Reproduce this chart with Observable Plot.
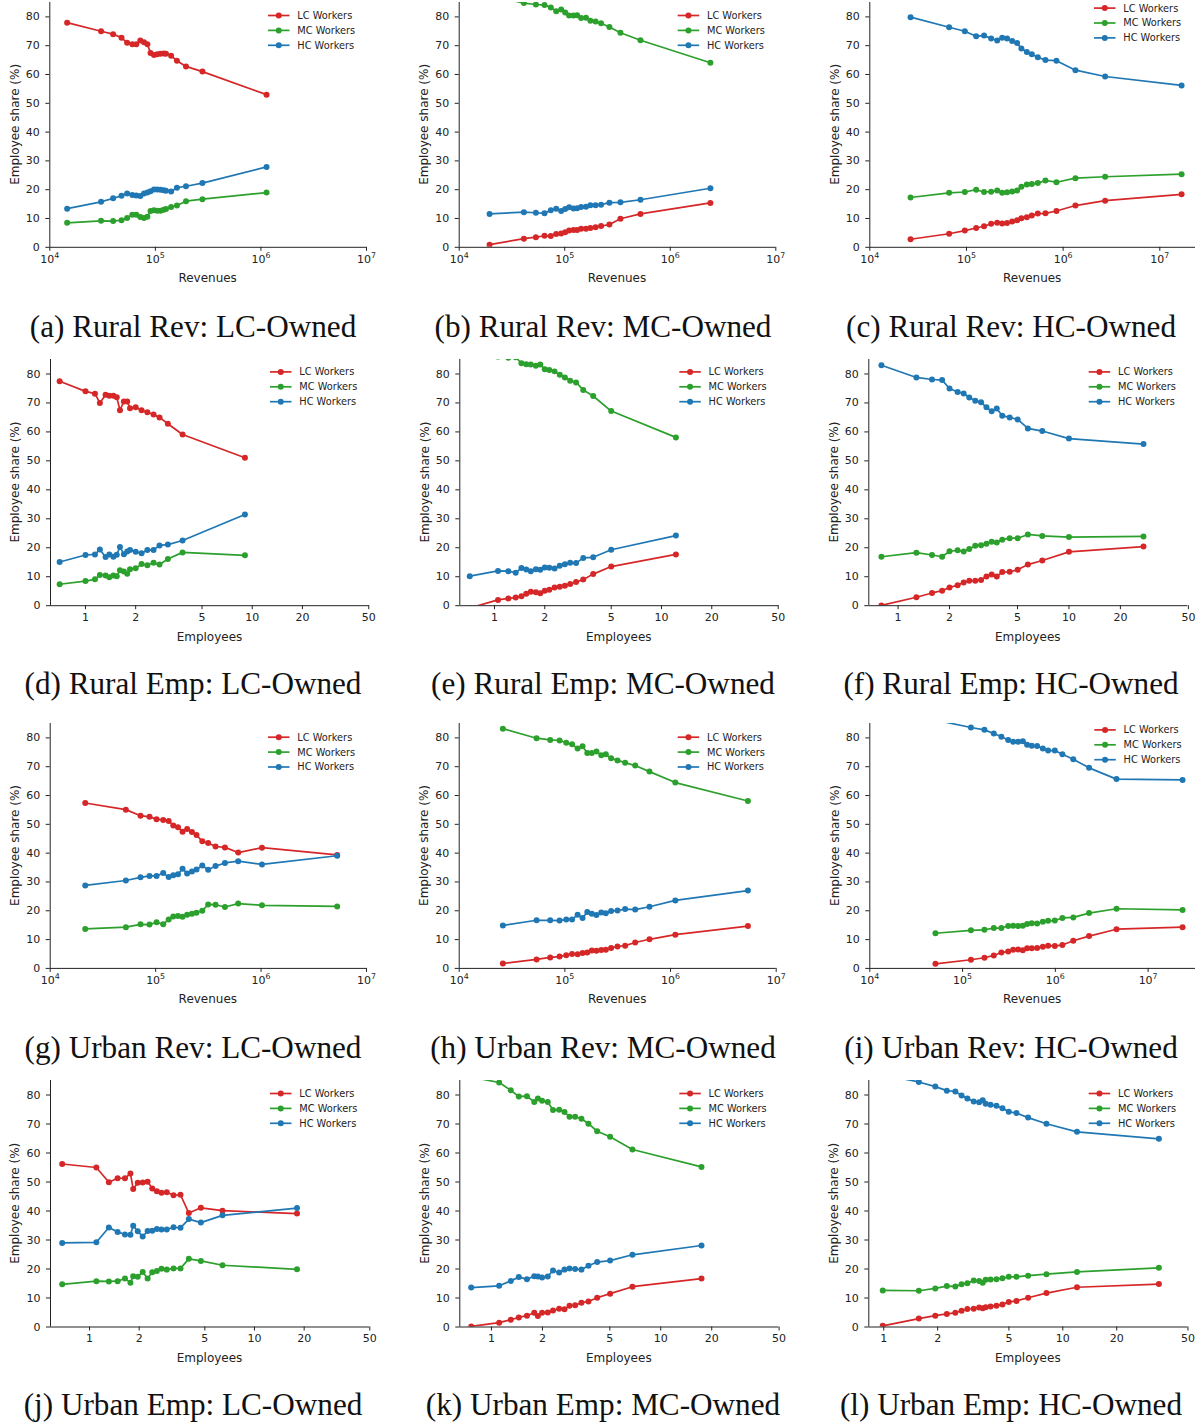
<!DOCTYPE html>
<html><head><meta charset="utf-8">
<script src="https://cdn.jsdelivr.net/npm/d3@7"></script>
<script src="https://cdn.jsdelivr.net/npm/@observablehq/plot@0.6"></script>
<style>
body{margin:0;background:#fff;}
#root{position:relative;width:1198px;height:1425px;overflow:hidden;font-family:"DejaVu Sans";}
.panel{position:absolute;}
.cap{position:absolute;font-family:"Liberation Serif";font-size:31.2px;line-height:30px;white-space:nowrap;color:#111;transform:translateX(-50%);}
</style></head><body><div id="root"></div>
<script>
const seriesNames = ["LC Workers","MC Workers","HC Workers"];
const colors = ["#d62728","#2ca02c","#1f77b4"];
const yTicks = [0,10,20,30,40,50,60,70,80];
const revTicks = [1e4,1e5,1e6,1e7];
const empTicks = [1,2,5,10,20,50];

// (a) Rural Rev: LC-Owned
const aX = [1.46e4,3.06e4,3.98e4,4.78e4,5.4e4,6.05e4,6.6e4,7.2e4,7.8e4,8.4e4,9.0e4,9.7e4,1.04e5,1.12e5,1.2e5,1.26e5,1.41e5,1.6e5,1.95e5,2.79e5,1.13e6];
const aLC = [78,75,74,72.8,71,70.5,70.5,71.8,71.2,70.5,67.5,66.8,67,67.2,67.3,67.2,66.5,64.8,62.8,61,53];
const aMC = [8.5,9.2,9.1,9.4,10.2,11.3,11.3,10.5,10.2,10.6,12.6,12.9,12.7,12.7,13,13.3,14,14.5,16,16.7,19];
const aHC = [13.4,15.8,17,17.9,18.7,18.2,18,17.8,18.7,19,19.5,20.1,20.1,20,19.8,19.6,19.4,20.7,21.2,22.3,27.9];
// (b) Rural Rev: MC-Owned
const bX = [1.94e4,4.1e4,5.33e4,6.43e4,7.38e4,8.3e4,9.25e4,1.01e5,1.10e5,1.21e5,1.31e5,1.43e5,1.59e5,1.75e5,1.96e5,2.21e5,2.65e5,3.37e5,5.22e5,2.40e6];
const bLC = [0.9,3,3.5,4,3.9,4.6,4.8,5.2,5.8,6,6,6.4,6.4,6.7,7,7.4,7.9,9.9,11.6,15.4];
const bMC = [87.5,84.8,84.3,84.1,83.3,82,82.6,81.5,80.5,80.5,80.6,79.6,79.7,78.7,78.4,77.8,76.5,74.5,71.9,64.1];
const bHC = [11.6,12.2,12,11.8,12.9,13.4,12.6,13.3,13.9,13.5,13.6,14,14.1,14.6,14.6,14.8,15.5,15.6,16.5,20.5];
// (c) Rural Rev: HC-Owned
const cX = [2.64e4,6.62e4,9.62e4,1.26e5,1.52e5,1.8e5,2.08e5,2.34e5,2.63e5,2.97e5,3.34e5,3.7e5,4.21e5,4.74e5,5.47e5,6.56e5,8.53e5,1.34e6,2.72e6,1.68e7];
const cLC = [2.8,4.7,5.8,6.7,7.3,8.2,8.5,8.3,8.4,9,9.4,10.1,10.4,11,11.7,11.8,12.6,14.5,16.2,18.4];
const cMC = [17.3,18.9,19.2,20,19.2,19.3,19.7,18.9,19.1,19.4,19.7,21,21.8,22,22.3,23.2,22.6,24,24.5,25.4];
const cHC = [79.9,76.4,75,73.3,73.5,72.5,71.8,72.8,72.5,71.6,70.9,69,67.8,67,66,65,64.8,61.5,59.3,56.2];
// (d) Rural Emp: LC-Owned
const dX = [0.70,1.0,1.14,1.22,1.32,1.39,1.47,1.54,1.61,1.70,1.78,1.85,2.0,2.17,2.35,2.56,2.78,3.12,3.82,9.04];
const dLC = [77.5,74,73.2,70,72.8,72.5,72.5,72,67.5,70.5,70.5,68.2,68.5,67.5,66.8,66,65,62.8,59.1,51.1];
const dMC = [7.4,8.5,9.1,10.6,10.4,9.8,10.4,10.2,12.2,11.8,11,12.6,12.9,14.4,14,14.8,14.2,16.1,18.4,17.4];
const dHC = [15.1,17.5,17.7,19.4,16.8,17.7,16.9,17.6,20.3,17.8,18.7,19.2,18.6,18.1,19.2,19.2,20.8,21.1,22.5,31.5];
// (e) Rural Emp: MC-Owned
const eX = [0.711,1.05,1.21,1.34,1.45,1.55,1.65,1.77,1.88,2.0,2.13,2.29,2.46,2.64,2.84,3.08,3.40,3.90,5.0,12.2];
const eLC = [-0.8,2,2.5,2.8,3.3,4.1,4.8,4.6,4.3,5.2,5.5,6.3,6.5,6.9,7.5,8.2,9,10.9,13.5,17.7];
const eMC = [90.6,86,85.6,85.8,83.7,83.4,83.3,82.8,83.3,81.6,81.4,80.9,79.7,78.8,77.7,77.1,74.5,72.4,67.2,58.1];
const eHC = [10.2,12,11.9,11.4,13,12.5,11.9,12.6,12.4,13.2,13.1,12.8,13.8,14.3,14.8,14.7,16.5,16.7,19.3,24.2];
// (f) Rural Emp: HC-Owned
const fX = [0.799,1.28,1.58,1.81,2.0,2.23,2.42,2.61,2.83,3.06,3.29,3.53,3.78,4.07,4.50,5.01,5.75,6.98,10.0,27.3];
const fLC = [0.1,2.9,4.4,5.2,6.3,7.1,8.0,8.6,8.6,8.9,10.1,10.8,10.1,11.6,11.7,12.4,14.2,15.6,18.6,20.4];
const fMC = [16.9,18.3,17.5,16.9,18.8,19.1,18.7,19.6,20.7,20.9,21.4,22.1,21.8,22.8,23.3,23.3,24.6,24.1,23.7,23.9];
const fHC = [83,78.8,78.1,77.9,75,73.8,73.3,71.9,70.8,70.2,68.5,67.1,68.1,65.6,65,64.3,61.2,60.3,57.7,55.8];
// (g) Urban Rev: LC-Owned
const gX = [2.15e4,5.22e4,7.19e4,8.75e4,1.02e5,1.18e5,1.33e5,1.47e5,1.63e5,1.80e5,1.99e5,2.21e5,2.44e5,2.77e5,3.15e5,3.70e5,4.54e5,6.07e5,1.02e6,5.27e6];
const gLC = [57.4,55.1,53,52.6,51.8,51.5,51.2,49.6,49,47.4,48.4,47.3,46.3,44.1,43.5,42.3,42,40.2,41.9,39.4];
const gMC = [13.7,14.3,15.3,15.2,16,15.3,17,18,18.2,17.9,18.6,19,19.3,20,22.2,22.1,21.3,22.5,21.9,21.5];
const gHC = [28.8,30.5,31.6,32.1,32.1,33.1,31.7,32.3,32.7,34.6,32.9,33.6,34.3,35.7,34.2,35.5,36.6,37.2,36.1,39.1];
// (h) Urban Rev: MC-Owned
const hX = [2.59e4,5.40e4,7.26e4,8.91e4,1.03e5,1.17e5,1.32e5,1.47e5,1.63e5,1.80e5,1.99e5,2.21e5,2.44e5,2.74e5,3.15e5,3.72e5,4.63e5,6.32e5,1.11e6,5.40e6];
const hLC = [1.7,3.1,3.8,4.1,4.6,5,4.9,5.3,5.5,6.2,6.1,6.4,6.5,7.1,7.6,7.9,9,10.1,11.7,14.7];
const hMC = [83.2,79.9,79.3,79.1,78.3,77.8,76.3,77.1,74.8,74.8,75.3,74,74.3,72.9,72.2,71.4,70.4,68.3,64.5,58.1];
const hHC = [14.9,16.7,16.7,16.6,17,17,18.6,17.5,19.6,19,18.5,19.4,19.1,19.9,20.1,20.6,20.4,21.4,23.6,27];
// (i) Urban Rev: HC-Owned
const iX = [5.1e4,1.23e5,1.72e5,2.17e5,2.62e5,3.10e5,3.51e5,3.97e5,4.46e5,4.96e5,5.57e5,6.36e5,7.33e5,8.36e5,9.86e5,1.19e6,1.56e6,2.31e6,4.56e6,2.35e7];
const iLC = [1.6,3.0,3.7,4.5,5.5,5.9,6.5,6.6,6.3,7,7,7.1,7.5,7.9,7.8,8.1,9.6,11.2,13.6,14.3];
const iMC = [12.2,13.2,13.4,14,14,14.7,14.8,14.7,14.8,15.4,15.7,15.6,16.2,16.5,16.6,17.5,17.7,19.2,20.7,20.3];
const iHC = [86.2,83.6,82.8,81.5,80.4,79.3,78.7,78.7,78.8,77.6,77.3,77.2,76.3,75.6,75.6,74.3,72.6,69.6,65.7,65.4];
// (j) Urban Emp: LC-Owned
const jX = [0.683,1.10,1.31,1.48,1.64,1.77,1.84,1.96,2.10,2.25,2.40,2.56,2.73,2.94,3.23,3.56,4.0,4.73,6.40,18.1];
const jLC = [56.2,55,49.9,51.3,51.3,52.9,47.6,49.7,49.8,50.1,47.8,46.8,46.3,46.5,45.4,45.6,39.3,41.1,40.1,39.1];
const jMC = [14.7,15.8,15.7,15.8,16.7,15.3,17.5,17.3,19,16.7,18.9,19.3,20.1,19.8,20.2,20.2,23.5,22.8,21.3,19.9];
const jHC = [29,29.2,34.3,32.8,31.9,31.8,34.9,33,31.2,33.1,33.2,33.8,33.6,33.6,34.4,34.2,37.2,36,38.5,41];
// (k) Urban Emp: MC-Owned
const kX = [0.759,1.11,1.30,1.45,1.62,1.79,1.88,1.99,2.15,2.31,2.51,2.70,2.89,3.12,3.40,3.74,4.21,5.02,6.80,17.4];
const kLC = [0.2,1.5,2.5,3.3,3.9,4.9,3.8,4.9,5,5.7,6.3,6.1,7.3,7.5,8.4,8.8,10.1,11.5,13.9,16.7];
const kMC = [86.2,84.3,81.6,79.5,79.6,77.6,78.8,78,77.6,74.8,74.9,74.1,72.5,72.5,71.8,70.1,67.5,65.6,61.2,55.2];
const kHC = [13.6,14.2,15.9,17.2,16.5,17.5,17.4,17.1,17.4,19.5,18.8,19.8,20.2,20,19.8,21.1,22.4,22.9,24.9,28.1];
// (l) Urban Emp: HC-Owned
const lX = [0.987,1.57,1.94,2.25,2.51,2.72,2.93,3.18,3.41,3.57,3.71,3.95,4.26,4.60,4.99,5.51,6.40,8.10,12.0,34.4];
const lLC = [0.4,2.9,3.9,4.5,4.9,5.6,6.2,6.3,6.7,6.5,6.8,7.1,7.3,7.8,8.6,9,10.1,11.7,13.7,14.8];
const lMC = [12.6,12.5,13.3,14.1,14,14.7,15.1,16,15.9,15.3,16.3,16.4,16.5,16.8,17.3,17.3,17.7,18.2,19,20.4];
const lHC = [87,84.5,82.9,81.5,81.2,79.8,78.8,77.8,77.5,78.2,77,76.6,76.3,75.4,74.2,73.8,72.2,70.1,67.3,64.9];

const panels = [
  {cap:"(a) Rural Rev: LC-Owned", kind:"rev", x:aX, lc:aLC, mc:aMC, hc:aHC, domain:[1e4,1e7], row:0, col:0, frame:[49.3,366], lg:[98,13.5]},
  {cap:"(b) Rural Rev: MC-Owned", kind:"rev", x:bX, lc:bLC, mc:bMC, hc:bHC, domain:[1e4,1e7], row:0, col:1, frame:[458.7,775.3], lg:[97.6,13.5]},
  {cap:"(c) Rural Rev: HC-Owned", kind:"rev", x:cX, lc:cLC, mc:cMC, hc:cHC, domain:[1e4,2.34e7], row:0, col:2, frame:[869.3,1195], lg:[101,6.1]},
  {cap:"(d) Rural Emp: LC-Owned", kind:"emp", x:dX, lc:dLC, mc:dMC, hc:dHC, domain:[0.617,50.5], row:1, col:0, frame:[50,369], lg:[99,12.9]},
  {cap:"(e) Rural Emp: MC-Owned", kind:"emp", x:eX, lc:eLC, mc:eMC, hc:eHC, domain:[0.62,50.4], row:1, col:1, frame:[459.3,778.3], lg:[99,12.9]},
  {cap:"(f) Rural Emp: HC-Owned", kind:"emp", x:fX, lc:fLC, mc:fMC, hc:fHC, domain:[0.674,49.6], row:1, col:2, frame:[868.3,1187.3], lg:[98.6,12.9]},
  {cap:"(g) Urban Rev: LC-Owned", kind:"rev", x:gX, lc:gLC, mc:gMC, hc:gHC, domain:[1e4,1e7], row:2, col:0, frame:[49.7,366], lg:[98,14.2]},
  {cap:"(h) Urban Rev: MC-Owned", kind:"rev", x:hX, lc:hLC, mc:hMC, hc:hHC, domain:[1e4,1e7], row:2, col:1, frame:[458.7,775.7], lg:[98,14.2]},
  {cap:"(i) Urban Rev: HC-Owned", kind:"rev", x:iX, lc:iLC, mc:iMC, hc:iHC, domain:[1e4,3.24e7], row:2, col:2, frame:[869.3,1195], lg:[100.7,6.9]},
  {cap:"(j) Urban Emp: LC-Owned", kind:"emp", x:jX, lc:jLC, mc:jMC, hc:jHC, domain:[0.58,49.8], row:3, col:0, frame:[50,369], lg:[99,13.5]},
  {cap:"(k) Urban Emp: MC-Owned", kind:"emp", x:kX, lc:kLC, mc:kMC, hc:kHC, domain:[0.65,49.8], row:3, col:1, frame:[459.3,778.3], lg:[99,13.5]},
  {cap:"(l) Urban Emp: HC-Owned", kind:"emp", x:lX, lc:lLC, mc:lMC, hc:lHC, domain:[0.825,49.9], row:3, col:2, frame:[868.3,1187.3], lg:[98.6,13.5]}
];

const root = document.getElementById("root");
const colOrigin = [0,400,800], colWidth = [400,400,398];
const rowFrame = [[2.2,247],[358.8,605],[722.8,967.7],[1079.5,1326]];
const capBaseline = [337,694,1058,1415];
const capCenter = [193,603,1011];
const MT = 2, MB = 45;
const ink = "#222";

panels.forEach(p => {
  const W = colWidth[p.col];
  const [fT, fB] = rowFrame[p.row];
  const mL = p.frame[0] - colOrigin[p.col];
  const mR = colOrigin[p.col] + W - p.frame[1];
  const H = fB - fT + MT + MB;
  const isRev = p.kind === "rev";
  const series = [p.lc, p.mc, p.hc].map((ys, i) => p.x.map((x, j) => ({x, y: ys[j], s: seriesNames[i]})));
  const marks = [];
  series.forEach((data, i) => {
    marks.push(Plot.line(data, {x:"x", y:"y", stroke: colors[i], strokeWidth: 1.7, clip: true}));
    marks.push(Plot.dot(data, {x:"x", y:"y", fill: colors[i], r: 3, clip: true}));
  });
  marks.push(
    Plot.axisX({ticks: isRev ? revTicks : empTicks,
      tickFormat: isRev ? (d => "10^" + Math.round(Math.log10(d))) : (d => String(d)),
      tickSize: 4, tickPadding: 3.5, label: null}),
    Plot.axisY({ticks: yTicks, tickSize: 4, tickPadding: 6, label: null}),
    Plot.ruleY([0], {stroke: ink, strokeWidth: 1}),
    Plot.ruleX([p.domain[0]], {stroke: ink, strokeWidth: 1})
  );
  const svg = Plot.plot({
    width: W, height: H,
    marginLeft: mL, marginRight: mR, marginTop: MT, marginBottom: MB,
    x: {type: "log", domain: p.domain},
    y: {domain: [0, 85]},
    style: {fontFamily: "DejaVu Sans", fontSize: "11px", color: ink, background: "transparent"},
    marks
  });
  const s = d3.select(svg);
  // superscript exponents on revenue ticks
  s.selectAll("text").each(function() {
    const t = d3.select(this);
    const txt = t.text();
    if (/^10\^\d$/.test(txt)) {
      const e = txt.slice(3);
      t.text("10");
      t.append("tspan").attr("font-size", "0.72em").attr("dy", "-0.55em").text(e);
    }
  });
  const fl = mL, fr = W - mR, ft = MT, fb = H - MB;
  s.append("text")
    .attr("transform", `translate(${fl - 34.8},${(ft + fb) / 2}) rotate(-90)`)
    .attr("text-anchor", "middle").attr("dy", "0.35em")
    .attr("font-size", 12).attr("fill", ink).text("Employee share (%)");
  s.append("text")
    .attr("x", (fl + fr) / 2).attr("y", fb + 35.5)
    .attr("text-anchor", "middle").attr("font-size", 12).attr("fill", ink)
    .text(isRev ? "Revenues" : "Employees");
  const lx = fr - p.lg[0];
  seriesNames.forEach((name, i) => {
    const ly = ft + p.lg[1] + i * 14.9;
    const g = s.append("g");
    g.append("line").attr("x1", lx).attr("x2", lx + 21.5).attr("y1", ly).attr("y2", ly)
      .attr("stroke", colors[i]).attr("stroke-width", 1.7);
    g.append("circle").attr("cx", lx + 10.75).attr("cy", ly).attr("r", 3).attr("fill", colors[i]);
    g.append("text").attr("x", lx + 29.3).attr("y", ly).attr("dy", "0.35em")
      .attr("text-anchor", "start")
      .attr("font-size", 9.8).attr("fill", ink).text(name);
  });
  const div = document.createElement("div");
  div.className = "panel";
  div.style.left = colOrigin[p.col] + "px";
  div.style.top = (fT - MT) + "px";
  div.style.width = W + "px";
  div.style.height = H + "px";
  div.appendChild(svg);
  root.appendChild(div);
  const cap = document.createElement("div");
  cap.className = "cap";
  cap.style.left = capCenter[p.col] + "px";
  cap.style.top = (capBaseline[p.row] - 25) + "px";
  cap.textContent = p.cap;
  root.appendChild(cap);
});
</script>
</body></html>
